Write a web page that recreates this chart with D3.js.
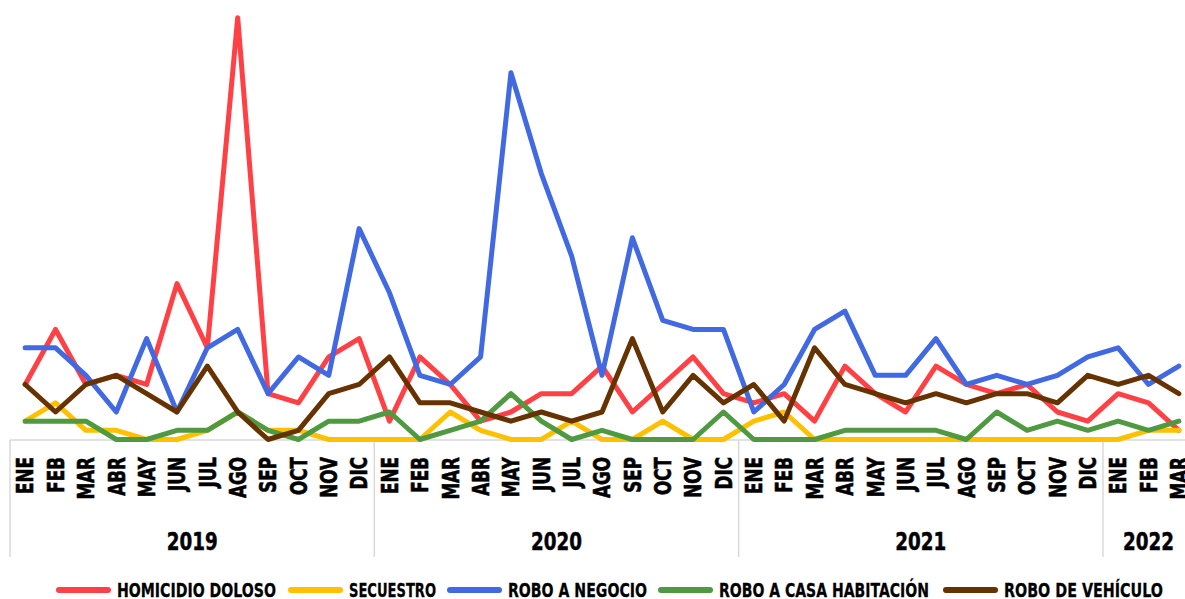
<!DOCTYPE html>
<html>
<head>
<meta charset="utf-8">
<script src="https://cdn.jsdelivr.net/npm/d3@7"></script>
<style>
  body { margin: 0; background: #fff; }
  svg { display: block; }
  .month text { font-family: "DejaVu Sans", sans-serif; font-weight: bold; font-size: 23px; fill: #000; stroke: #000; stroke-width: 0.6px; }
  .year { font-family: "DejaVu Sans", sans-serif; font-weight: bold; font-size: 25px; fill: #000; stroke: #000; stroke-width: 0.5px; }
  .legend text { font-family: "DejaVu Sans", sans-serif; font-weight: bold; font-size: 20px; fill: #000; stroke: #000; stroke-width: 0.3px; }
</style>
</head>
<body>
<div id="chart"></div>
<script>
var svgWidth = 1185;
var svgHeight = 599;

// categories
var months = ["ENE", "FEB", "MAR", "ABR", "MAY", "JUN", "JUL", "AGO", "SEP", "OCT", "NOV", "DIC"];
var years = [
  { year: "2019", count: 12 },
  { year: "2020", count: 12 },
  { year: "2021", count: 12 },
  { year: "2022", count: 3 }
];

// series values, ENE 2019 .. MAR 2022
var homicidio = [6, 12, 6, 7, 6, 17, 10, 46, 5, 4, 9, 11,
                 2, 9, 6, 2, 3, 5, 5, 8, 3, 6, 9, 5,
                 4, 5, 2, 8, 5, 3, 8, 6, 5, 6, 3, 2,
                 5, 4, 1];
var secuestro = [2, 4, 1, 1, 0, 0, 1, 3, 1, 1, 0, 0,
                 0, 0, 3, 1, 0, 0, 2, 0, 0, 2, 0, 0,
                 2, 3, 0, 0, 0, 0, 0, 0, 0, 0, 0, 0,
                 0, 1, 1];
var roboNegocio = [10, 10, 7, 3, 11, 3, 10, 12, 5, 9, 7, 23,
                   16, 7, 6, 9, 40, 29, 20, 7, 22, 13, 12, 12,
                   3, 6, 12, 14, 7, 7, 11, 6, 7, 6, 7, 9,
                   10, 6, 8];
var roboCasa = [2, 2, 2, 0, 0, 1, 1, 3, 1, 0, 2, 2,
                3, 0, 1, 2, 5, 2, 0, 1, 0, 0, 0, 3,
                0, 0, 0, 1, 1, 1, 1, 0, 3, 1, 2, 1,
                2, 1, 2];
var roboVehiculo = [6, 3, 6, 7, 5, 3, 8, 3, 0, 1, 5, 6,
                    9, 4, 4, 3, 2, 3, 2, 3, 11, 3, 7, 4,
                    6, 2, 10, 6, 5, 4, 5, 4, 5, 5, 4, 7,
                    6, 7, 5];

var series = [
  { name: "HOMICIDIO DOLOSO", values: homicidio, color: "#ff4045" },
  { name: "SECUESTRO", values: secuestro, color: "#ffc000" },
  { name: "ROBO A NEGOCIO", values: roboNegocio, color: "#4169e1" },
  { name: "ROBO A CASA HABITACIÓN", values: roboCasa, color: "#4f9a40" },
  { name: "ROBO DE VEHÍCULO", values: roboVehiculo, color: "#663300" }
];

// legend layout (swatch start x, label width)
var legendX = [56, 288, 447, 658, 943];
var legendW = [159, 87, 139, 210, 159];

// flat category list
var cats = [];
years.forEach(function(y) {
  for (var i = 0; i < y.count; i++) cats.push({ year: y.year, month: months[i] });
});
var idx = d3.range(cats.length);

var svg = d3.select("#chart").append("svg")
  .attr("width", svgWidth)
  .attr("height", svgHeight);

var axisY = 440;

var x = d3.scaleBand()
  .domain(idx)
  .range([10, 10 + cats.length * 30.36]);

var y = d3.scaleLinear()
  .domain([0, 48])
  .range([439.5, 439.5 - 48 * 9.17]);

var cx = function(i) { return x(i) + x.bandwidth() / 2; };

// category axis frame
var frame = svg.append("g").attr("stroke", "#d9d9d9").attr("stroke-width", 1.5);
frame.append("line")
  .attr("x1", 10).attr("x2", svgWidth)
  .attr("y1", axisY).attr("y2", axisY);

var start = 0;
var bounds = [0];
years.forEach(function(yr) { start += yr.count; bounds.push(start); });
bounds.forEach(function(b) {
  var bx = b < cats.length ? x(b) : x(cats.length - 1) + x.bandwidth();
  frame.append("line")
    .attr("x1", bx).attr("x2", bx)
    .attr("y1", axisY).attr("y2", 557);
});

// month labels via axis
var monthAxis = d3.axisBottom(x)
  .tickSize(0)
  .tickFormat(function(i) { return cats[i].month; });

var gm = svg.append("g")
  .attr("class", "month")
  .attr("transform", "translate(0," + axisY + ")")
  .call(monthAxis);
gm.select(".domain").remove();
gm.selectAll("text")
  .attr("transform", "translate(0,17) rotate(-90) scale(0.73,1)")
  .attr("x", 0)
  .attr("y", 0)
  .attr("dy", "0.36em")
  .attr("text-anchor", "end");

// year labels
var s = 0;
years.forEach(function(yr) {
  var a = x(s), b = x(s + yr.count - 1) + x.bandwidth();
  s += yr.count;
  svg.append("text")
    .attr("class", "year")
    .attr("x", (a + b) / 2 - 25.5)
    .attr("y", 550)
    .attr("textLength", 51)
    .attr("lengthAdjust", "spacingAndGlyphs")
    .text(yr.year);
});

// lines
var line = d3.line()
  .x(function(d, i) { return cx(i); })
  .y(function(d) { return y(d); });

svg.append("g").selectAll("path")
  .data(series)
  .enter()
  .append("path")
  .attr("d", function(d) { return line(d.values); })
  .attr("fill", "none")
  .attr("stroke", function(d) { return d.color; })
  .attr("stroke-width", 5)
  .attr("stroke-linejoin", "round")
  .attr("stroke-linecap", "round");

// legend
var legend = svg.append("g").attr("class", "legend");
series.forEach(function(d, i) {
  var g = legend.append("g").attr("transform", "translate(" + legendX[i] + ",590)");
  g.append("line")
    .attr("x1", 3).attr("x2", 52)
    .attr("stroke", d.color)
    .attr("stroke-width", 6)
    .attr("stroke-linecap", "round");
  g.append("text")
    .attr("x", 61)
    .attr("dy", "0.36em")
    .attr("textLength", legendW[i])
    .attr("lengthAdjust", "spacingAndGlyphs")
    .text(d.name);
});
</script>
</body>
</html>
